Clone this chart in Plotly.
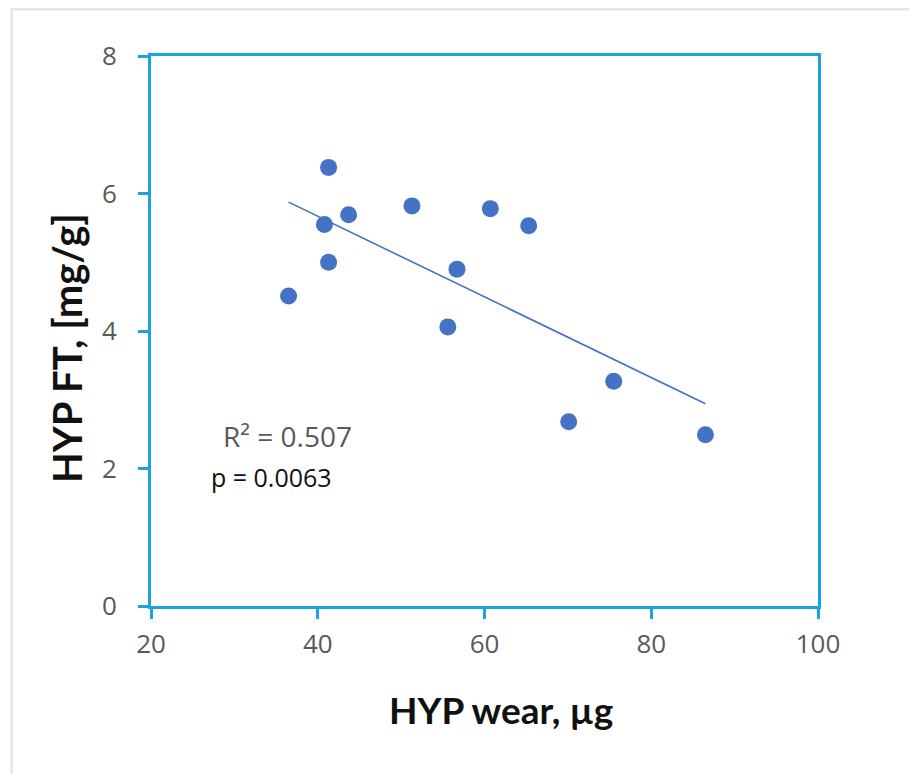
import numpy as np
import plotly.graph_objects as go

# Data
hyp_wear = [36.5, 41.3, 40.8, 43.7, 41.3, 51.3, 60.7, 65.3, 56.7, 55.6, 75.5, 70.1, 86.5]
hyp_ft = [4.51, 6.38, 5.55, 5.69, 5.00, 5.82, 5.78, 5.53, 4.90, 4.06, 3.27, 2.68, 2.49]

x_ticks = [20, 40, 60, 80, 100]
y_ticks = [0, 2, 4, 6, 8]

r2_text = "R² = 0.507"
p_text = "p = 0.0063"

# Linear trend line (least squares)
slope, intercept = np.polyfit(hyp_wear, hyp_ft, 1)
tx = [min(hyp_wear), max(hyp_wear)]
ty = [slope * v + intercept for v in tx]

AXIS = "#1BA3DF"
PT = "#4472C4"

fig = go.Figure()
fig.add_trace(go.Scatter(x=tx, y=ty, mode="lines",
                         line=dict(color=PT, width=1.6), showlegend=False,
                         hoverinfo="skip"))
fig.add_trace(go.Scatter(x=hyp_wear, y=hyp_ft, mode="markers",
                         marker=dict(color=PT, size=17, line=dict(width=0)),
                         showlegend=False))

tickfont = dict(family="Open Sans", size=26, color="#595959")

fig.update_xaxes(range=[20, 100], tickvals=x_ticks, showgrid=False, zeroline=False,
                 showline=True, linecolor=AXIS, linewidth=3, mirror=True,
                 ticks="outside", ticklen=10, tickwidth=3, tickcolor=AXIS,
                 tickfont=tickfont, ticklabelstandoff=3)
fig.update_yaxes(range=[0, 8], tickvals=y_ticks, showgrid=False, zeroline=False,
                 showline=True, linecolor=AXIS, linewidth=3, mirror=True,
                 ticks="outside", ticklen=10, tickwidth=3, tickcolor=AXIS,
                 tickfont=tickfont, ticklabelstandoff=16)

fig.add_annotation(x=0.205, y=0.309, xref="paper", yref="paper", text=r2_text, showarrow=False,
                   xanchor="center", yanchor="middle",
                   font=dict(family="Open Sans", size=28, color="#595959"))
fig.add_annotation(x=0.181, y=0.235, xref="paper", yref="paper", text=p_text, showarrow=False,
                   xanchor="center", yanchor="middle",
                   font=dict(family="Open Sans", size=25, color="#111111"))

fig.add_annotation(x=0.525, y=-0.188, xref="paper", yref="paper", text="<b>HYP wear, µg</b>",
                   showarrow=False, xanchor="center", yanchor="middle",
                   font=dict(family="Lato", size=37, color="#111111"))
fig.add_annotation(x=-0.126, y=0.469, xref="paper", yref="paper", text="<b>HYP FT, [mg/g]</b>",
                   showarrow=False, textangle=-90, xanchor="center", yanchor="middle",
                   font=dict(family="Lato", size=40, color="#111111"))

fig.add_shape(type="rect", xref="paper", yref="paper", x0=-0.209, y0=-0.33, x1=1.16, y1=1.085,
              line=dict(color="#DDE0E5", width=2), fillcolor="rgba(0,0,0,0)", layer="below")

fig.update_layout(width=909, height=766, margin=dict(l=143, r=99, t=48, b=168),
                  paper_bgcolor="white", plot_bgcolor="white")

fig.write_html("out.html")
